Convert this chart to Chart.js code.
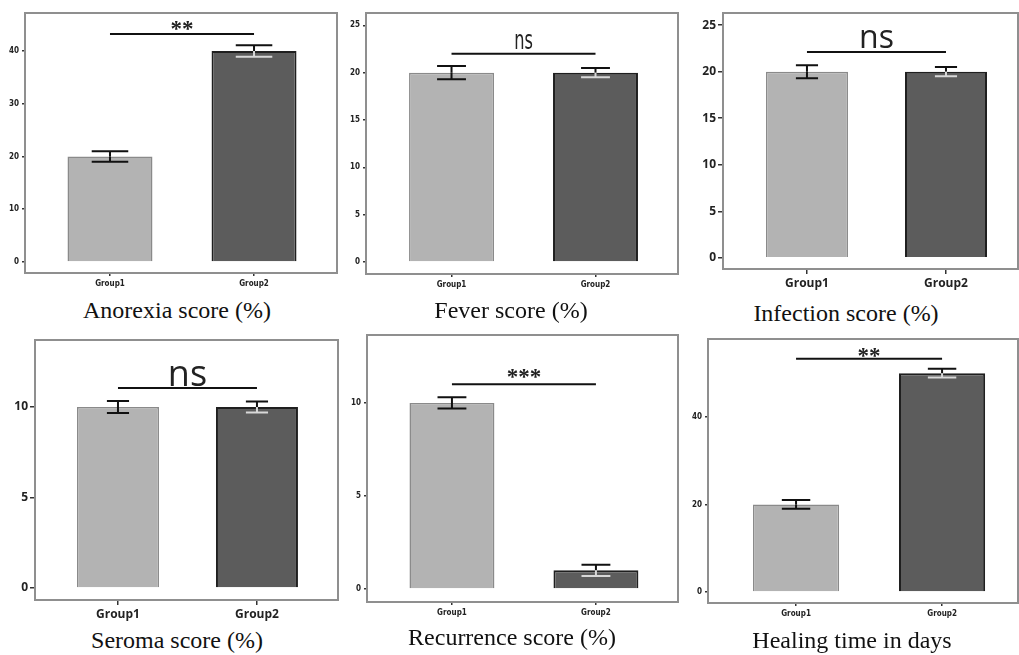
<!DOCTYPE html>
<html>
<head>
<meta charset="utf-8">
<script src="https://cdn.jsdelivr.net/npm/chart.js@4.4.0/dist/chart.umd.min.js"></script>
<style>
    body { margin: 0; background: #fff; }
    #wrap { position: relative; width: 1019px; height: 655px; overflow: hidden; background: #fff; }
    canvas { position: absolute; }
    .caption {
        position: absolute;
        width: 320px;
        height: 26px;
        line-height: 26px;
        text-align: center;
        font-family: "Liberation Serif", "Times New Roman", serif;
        font-size: 24px;
        color: #111;
        white-space: nowrap;
    }
</style>
</head>
<body>
<div id="wrap"></div>
<script>
// Data
const groups = ['Group1', 'Group2'];

const anorexiaMeans = [20, 40];
const anorexiaErrors = [1, 1.1];
const anorexiaTicks = [0, 10, 20, 30, 40];

const feverMeans = [20, 20];
const feverErrors = [0.7, 0.5];
const feverTicks = [0, 5, 10, 15, 20, 25];

const infectionMeans = [20, 20];
const infectionErrors = [0.7, 0.5];
const infectionTicks = [0, 5, 10, 15, 20, 25];

const seromaMeans = [10, 10];
const seromaErrors = [0.33, 0.3];
const seromaTicks = [0, 5, 10];

const recurrenceMeans = [10, 1];
const recurrenceErrors = [0.3, 0.3];
const recurrenceTicks = [0, 5, 10];

const healingMeans = [20, 50];
const healingErrors = [1, 1];
const healingTicks = [0, 20, 40];

const captions = ['Anorexia score (%)', 'Fever score (%)', 'Infection score (%)',
                  'Seroma score (%)', 'Recurrence score (%)', 'Healing time in days'];
const sigLabels = ['**', 'ns', 'ns', 'ns', '***', '**'];
const sigHeights = [43.2, 22.0, 22.1, 11.05, 11.0, 53.3];

// Styles
const barFills = ['#b3b3b3', '#5c5c5c'];
const barEdges = ['#8a8a8a', '#1f1f1f'];
const errLower = ['#111111', '#d8d8d8'];

const smallText = {
    tick: { family: '"DejaVu Sans Condensed", "DejaVu Sans", sans-serif', size: 8, weight: 'bold' },
    group: { family: '"DejaVu Sans Condensed", "DejaVu Sans", sans-serif', size: 8, weight: 'bold' },
    tickLength: 3, padding: 3, axisW: 30, axisH: 22
};
const largeText = {
    tick: { family: '"Open Sans", sans-serif', size: 12, weight: 'bold' },
    group: { family: '"Open Sans", sans-serif', size: 12, weight: 'bold' },
    tickLength: 5, padding: 2, axisW: 40, axisH: 26
};

const starFont = 'bold 23px "Liberation Serif", serif';

const panels = [
    { means: anorexiaMeans, errors: anorexiaErrors, ticks: anorexiaTicks,
      frame: [25, 13, 337, 273], xRange: [-0.59, 1.576], yRange: [-2.1, 47.2],
      text: smallText, cap: 0.43, sigFont: starFont, sigGap: -2, sigScale: 1,
      captionAt: [177, 310] },
    { means: feverMeans, errors: feverErrors, ticks: feverTicks,
      frame: [366, 13, 678, 274], xRange: [-0.594, 1.573], yRange: [-1.27, 26.3],
      text: smallText, cap: 0.34, sigFont: '27px "DejaVu Sans", sans-serif', sigGap: 5, sigScale: 0.6,
      captionAt: [511, 310] },
    { means: infectionMeans, errors: infectionErrors, ticks: infectionTicks,
      frame: [723, 13, 1018, 269], xRange: [-0.604, 1.518], yRange: [-1.2, 26.3],
      text: largeText, cap: 0.27, sigFont: '32px "Open Sans", sans-serif', sigGap: 4, sigScale: 1,
      captionAt: [846, 313] },
    { means: seromaMeans, errors: seromaErrors, ticks: seromaTicks,
      frame: [35, 340, 338, 600], xRange: [-0.597, 1.583], yRange: [-0.66, 13.7],
      text: largeText, cap: 0.27, sigFont: '36px "Open Sans", sans-serif', sigGap: 2, sigScale: 1,
      captionAt: [177, 640] },
    { means: recurrenceMeans, errors: recurrenceErrors, ticks: recurrenceTicks,
      frame: [367, 335, 678, 602], xRange: [-0.59, 1.57], yRange: [-0.7, 13.65],
      text: smallText, cap: 0.34, sigFont: starFont, sigGap: 0, sigScale: 1,
      captionAt: [512, 637] },
    { means: healingMeans, errors: healingErrors, ticks: healingTicks,
      frame: [708, 339, 1018, 603], xRange: [-0.603, 1.52], yRange: [-2.5, 57.8],
      text: smallText, cap: 0.33, sigFont: starFont, sigGap: -4, sigScale: 1,
      captionAt: [852, 640] }
];

// Frame, error bars and significance bar
const annotations = {
    id: 'annotations',
    afterDatasetsDraw(chart, args, opts) {
        const p = opts.panel;
        const ctx = chart.ctx;
        const xs = chart.scales.x, ys = chart.scales.y;
        const bars = chart.getDatasetMeta(0).data;
        ctx.save();

        // error bars
        p.means.forEach(function(m, i) {
            const x = xs.getPixelForValue(i);
            const half = bars[i].width * p.cap / 2;
            const yTop = ys.getPixelForValue(m + p.errors[i]);
            const yMid = ys.getPixelForValue(m);
            const yBot = ys.getPixelForValue(m - p.errors[i]);
            ctx.lineWidth = 2;
            ctx.strokeStyle = '#111';
            ctx.beginPath();
            ctx.moveTo(x, yTop); ctx.lineTo(x, yMid);
            ctx.moveTo(x - half, yTop); ctx.lineTo(x + half, yTop);
            ctx.stroke();
            ctx.strokeStyle = errLower[i];
            ctx.beginPath();
            ctx.moveTo(x, yMid); ctx.lineTo(x, yBot);
            ctx.moveTo(x - half, yBot); ctx.lineTo(x + half, yBot);
            ctx.stroke();
        });

        // significance line
        const ySig = ys.getPixelForValue(sigHeights[p.index]);
        const x0 = xs.getPixelForValue(0), x1 = xs.getPixelForValue(1);
        ctx.strokeStyle = '#111';
        ctx.lineWidth = 2;
        ctx.beginPath();
        ctx.moveTo(x0, ySig); ctx.lineTo(x1, ySig);
        ctx.stroke();

        ctx.fillStyle = '#222';
        ctx.font = p.sigFont;
        ctx.textAlign = 'center';
        ctx.textBaseline = 'alphabetic';
        ctx.translate((x0 + x1) / 2, ySig - p.sigGap);
        ctx.scale(p.sigScale, 1);
        ctx.fillText(sigLabels[p.index], 0, 0);
        ctx.restore();

        // frame
        const a = chart.chartArea;
        ctx.save();
        ctx.strokeStyle = '#8f8f8f';
        ctx.lineWidth = 2;
        ctx.strokeRect(a.left, a.top, a.right - a.left, a.bottom - a.top);
        ctx.restore();
    }
};

const wrap = document.getElementById('wrap');

panels.forEach(function(p, index) {
    p.index = index;
    const t = p.text;
    const [l, top, r, b] = p.frame;
    const pad = 3;

    const canvas = document.createElement('canvas');
    canvas.width = (r - l) + t.axisW + pad;
    canvas.height = (b - top) + pad + t.axisH;
    canvas.style.left = (l - t.axisW) + 'px';
    canvas.style.top = (top - pad) + 'px';
    wrap.appendChild(canvas);

    const cap = document.createElement('div');
    cap.className = 'caption';
    cap.textContent = captions[index];
    cap.style.left = (p.captionAt[0] - 160) + 'px';
    cap.style.top = (p.captionAt[1] - 13) + 'px';
    wrap.appendChild(cap);

    new Chart(canvas, {
        type: 'bar',
        data: {
            datasets: [{
                data: p.means.map(function(v, i) { return { x: i, y: v }; }),
                backgroundColor: barFills,
                borderColor: barEdges,
                borderWidth: [1.5, 2],
                barPercentage: 0.59,
                categoryPercentage: 1
            }]
        },
        options: {
            responsive: false,
            animation: false,
            layout: { padding: { top: pad, right: pad, left: 0, bottom: 0 } },
            plugins: {
                legend: { display: false },
                tooltip: { enabled: false },
                annotations: { panel: p }
            },
            scales: {
                x: {
                    type: 'linear',
                    offset: false,
                    min: p.xRange[0],
                    max: p.xRange[1],
                    afterBuildTicks: function(s) {
                        s.ticks = groups.map(function(g, i) { return { value: i }; });
                    },
                    afterFit: function(s) {
                        s.height = t.axisH;
                        s.paddingLeft = 0; s.paddingRight = 0;
                    },
                    ticks: {
                        callback: function(v) { return groups[v]; },
                        font: t.group,
                        color: '#222',
                        padding: t.padding,
                        maxRotation: 0,
                        autoSkip: false
                    },
                    grid: { offset: false, drawOnChartArea: false, tickLength: t.tickLength, color: '#333', lineWidth: 1.5 },
                    border: { display: false }
                },
                y: {
                    min: p.yRange[0],
                    max: p.yRange[1],
                    afterBuildTicks: function(s) {
                        s.ticks = p.ticks.map(function(v) { return { value: v }; });
                    },
                    afterFit: function(s) {
                        s.width = t.axisW;
                        s.paddingTop = 0; s.paddingBottom = 0;
                    },
                    ticks: {
                        font: t.tick,
                        color: '#222',
                        padding: t.padding
                    },
                    grid: { drawOnChartArea: false, tickLength: t.tickLength, color: '#333', lineWidth: 1.5 },
                    border: { display: false }
                }
            }
        },
        plugins: [annotations]
    });
});
</script>
</body>
</html>
